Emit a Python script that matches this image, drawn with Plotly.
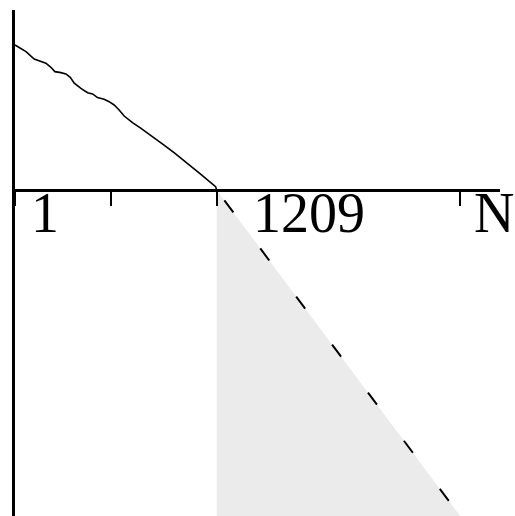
import plotly.graph_objects as go

# Index along the horizontal axis and the value of the decreasing curve
idx = [1, 67, 116, 146, 186, 216, 240, 276, 306, 332, 356, 396, 436, 466, 495,
       535, 565, 595, 625, 655, 705, 754, 834, 894, 954, 1034, 1113, 1203, 1209]
val = [1.000, 0.954, 0.903, 0.890, 0.874, 0.846, 0.816, 0.809, 0.800, 0.777,
       0.736, 0.701, 0.671, 0.662, 0.637, 0.626, 0.609, 0.586, 0.552, 0.510,
       0.464, 0.426, 0.363, 0.310, 0.257, 0.184, 0.110, 0.023, 0.000]

# Crossing point, end index and the bottom of the value range
cross_idx = 1209
n_idx = 2668
y_bottom = -2.248
y_top = 1.241
x_right = 2907

tick_vals = [1, 575, 1209, 2668]
label_vals = [1, 1209, 2668]
label_text = ["1", "1209", "N"]
label_shift = [14, 34, 12]

fig = go.Figure()

# shaded region below the axis between the crossing and the extrapolated line
fig.add_trace(go.Scatter(
    x=[cross_idx, n_idx, cross_idx, cross_idx],
    y=[0, y_bottom, y_bottom, 0],
    fill="toself", fillcolor="#ebebeb", mode="none",
    hoverinfo="skip"))

# dashed extrapolation
fig.add_trace(go.Scatter(
    x=[cross_idx, n_idx], y=[0, y_bottom], mode="lines",
    line=dict(color="black", width=2, dash="0px,13px,15px,32px"),
    hoverinfo="skip"))

# measured curve
fig.add_trace(go.Scatter(
    x=idx, y=val, mode="lines",
    line=dict(color="black", width=1.6),
    hoverinfo="skip"))

for xv, txt, sh in zip(label_vals, label_text, label_shift):
    fig.add_annotation(
        x=xv, y=0, xref="x", yref="y", text=txt, showarrow=False,
        xanchor="left", yanchor="top", xshift=sh, yshift=10,
        font=dict(family="Liberation Serif, Times New Roman, serif",
                  size=56, color="black"))

fig.update_layout(
    width=515, height=516,
    margin=dict(l=15, r=15, t=10, b=0),
    paper_bgcolor="white", plot_bgcolor="white",
    showlegend=False,
    xaxis=dict(range=[1, x_right], anchor="free", position=326 / 506,
               showline=True, linewidth=3, linecolor="black",
               ticks="outside", ticklen=14, tickwidth=2, tickcolor="black",
               tickvals=tick_vals, showticklabels=False,
               showgrid=False, zeroline=False),
    yaxis=dict(range=[y_bottom, y_top], showline=True, linewidth=3,
               linecolor="black", ticks="", showticklabels=False,
               showgrid=False, zeroline=False),
)

fig.write_html("out.html")
